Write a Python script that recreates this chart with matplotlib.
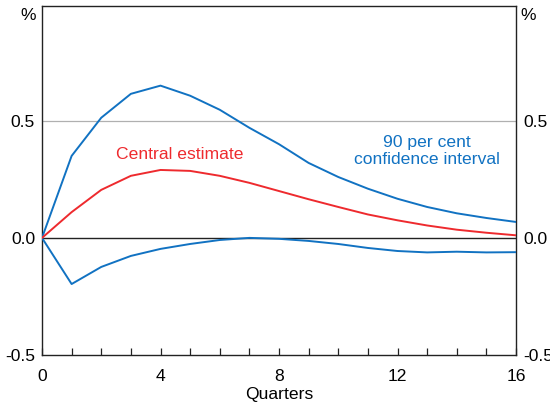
import matplotlib
matplotlib.use("Agg")
import matplotlib.pyplot as plt

quarters = list(range(17))
upper = [0.0, 0.35, 0.513, 0.615, 0.65, 0.607, 0.547, 0.47, 0.40, 0.32, 0.26, 0.21, 0.167, 0.132, 0.105, 0.085, 0.068]
central = [0.0, 0.11, 0.205, 0.265, 0.29, 0.286, 0.265, 0.235, 0.20, 0.165, 0.132, 0.10, 0.075, 0.053, 0.035, 0.022, 0.011]
lower = [0.0, -0.197, -0.124, -0.077, -0.047, -0.026, -0.009, 0.0, -0.004, -0.013, -0.026, -0.043, -0.056, -0.062, -0.059, -0.062, -0.061]
y_ticks = [-0.5, 0.0, 0.5]
y_labels = ["-0.5", "0.0", "0.5"]
x_major = [0, 4, 8, 12, 16]

plt.rcParams['font.family'] = ['Liberation Sans', 'DejaVu Sans']
BLUE = '#1172c2'
RED = '#ee2a2e'
FS = 12.6

fig = plt.figure(figsize=(5.5, 4.05), dpi=100)
ax = fig.add_axes([42/550, 1-355/405, (516-42)/550, (355-6)/405])
ax.set_xlim(0, 16)
ax.set_ylim(-0.5, 0.99)

ax.axhline(0.5, color='#b0b0b0', lw=0.9, zorder=1)
ax.axhline(0.0, color='#222222', lw=1.0, zorder=2)

ax.plot(quarters, upper, color=BLUE, lw=1.4, zorder=3)
ax.plot(quarters, lower, color=BLUE, lw=1.4, zorder=3)
ax.plot(quarters, central, color=RED, lw=1.4, zorder=4)

ax.text(4.64, 0.355, "Central estimate", color=RED, fontsize=FS, ha='center', va='center')
ax.text(12.98, 0.37, "90 per cent\nconfidence interval", color=BLUE, fontsize=FS,
        ha='center', va='center', linespacing=1.2)

ax.set_xticks(x_major)
ax.set_xticks(quarters, minor=True)
ax.tick_params(axis='x', which='both', direction='in', length=5, width=0.9, color='#222222',
               labelsize=FS, pad=10)
ax.set_yticks(y_ticks)
ax.set_yticklabels(y_labels)
ax.tick_params(axis='y', which='both', length=0, labelsize=FS, pad=5,
               left=False, right=False, labelleft=True, labelright=True)
ax.set_xlabel("Quarters", fontsize=FS, labelpad=2)

for s in ax.spines.values():
    s.set_color('#222222')
    s.set_linewidth(1.0)

fig.text(28/550, 1-16/405, "%", fontsize=FS, ha='center', va='center')
fig.text(528/550, 1-16/405, "%", fontsize=FS, ha='center', va='center')

fig.savefig("out.png", dpi=100)
